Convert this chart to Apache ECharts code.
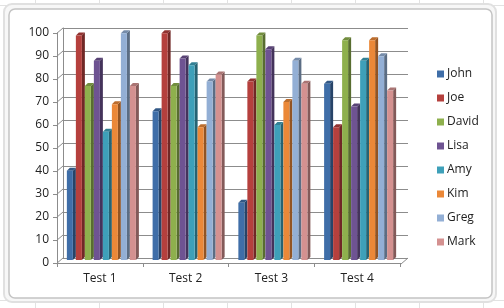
<!DOCTYPE html>
<html><head><meta charset="utf-8">
<script src="https://cdn.jsdelivr.net/npm/echarts@6/dist/echarts.min.js"></script>
<style>html,body{margin:0;padding:0;background:#fff}#c{width:504px;height:308px}</style>
</head><body><div id="c"></div>
<script>
var categories = ['Test 1', 'Test 2', 'Test 3', 'Test 4'];
var names = ['John', 'Joe', 'David', 'Lisa', 'Amy', 'Kim', 'Greg', 'Mark'];
var John  = [39, 65, 25, 77];
var Joe   = [98, 99, 78, 58];
var David = [76, 76, 98, 96];
var Lisa  = [87, 88, 92, 67];
var Amy   = [56, 85, 59, 87];
var Kim   = [68, 58, 69, 96];
var Greg  = [99, 78, 87, 89];
var Mark  = [76, 81, 77, 74];
var yTicks = [0, 10, 20, 30, 40, 50, 60, 70, 80, 90, 100];

var values = [John, Joe, David, Lisa, Amy, Kim, Greg, Mark];
var colors = ['#3f6ea8', '#b5403d', '#8eb04d', '#6e5392', '#3ea0b9', '#eb8838', '#93afd5', '#d49190'];

function shade(hex, f) {
  var n = parseInt(hex.slice(1), 16);
  var r = (n >> 16) & 255, g = (n >> 8) & 255, b = n & 255;
  function c(v) { v = f < 1 ? v * f : v + (255 - v) * (f - 1); return Math.max(0, Math.min(255, Math.round(v))); }
  return 'rgb(' + c(r) + ',' + c(g) + ',' + c(b) + ')';
}

var DX = 3, DY = 3;
function makeRender(idx, color) {
  return function (params, api) {
    var cat = api.value(0), val = api.value(1);
    var top = api.coord([cat, val]);
    var base = api.coord([cat, 0]);
    var band = api.size([1, 0])[0];
    var slot = band * 0.84 / names.length;
    var x0 = top[0] - slot * names.length / 2 + idx * slot;
    var w = slot - DX;
    var yt = top[1], yb = base[1];
    return {
      type: 'group',
      children: [
        { type: 'polygon', shape: { points: [[x0 + w, yt], [x0 + w + DX, yt - DY], [x0 + w + DX, yb - DY], [x0 + w, yb]] },
          style: { fill: shade(color, 0.62) } },
        { type: 'polygon', shape: { points: [[x0, yt], [x0 + DX, yt - DY], [x0 + w + DX, yt - DY], [x0 + w, yt]] },
          style: { fill: shade(color, 0.8) } },
        { type: 'rect', shape: { x: x0, y: yt, width: w, height: yb - yt },
          style: { fill: color } }
      ]
    };
  };
}

var series = [];
names.forEach(function (n, i) {
  series.push({
    name: n, type: 'custom', xAxisIndex: 2, yAxisIndex: 2,
    itemStyle: { color: colors[i] },
    renderItem: makeRender(i, colors[i]),
    encode: { x: 0, y: 1 },
    data: values[i].map(function (v, k) { return [k, v]; }),
    z: 10 + i
  });
});

series.push({
  type: 'custom', xAxisIndex: 1, yAxisIndex: 1, silent: true, z: 3,
  renderItem: function (params, api) {
    var p = api.coord([0, api.value(1)]);
    var x = p[0] - api.size([1, 0])[0] / 2;
    return { type: 'line', shape: { x1: x - 7, y1: p[1] + 6, x2: x, y2: p[1] },
      style: { stroke: '#8c8c8c', lineWidth: 1 } };
  },
  data: yTicks.map(function (v) { return [0, v]; })
});
series.push({
  type: 'custom', xAxisIndex: 1, yAxisIndex: 1, silent: true, z: 3,
  renderItem: function (params, api) {
    var p = api.coord([api.value(0), 0]);
    var x = p[0] + api.size([1, 0])[0] / 2;
    return { type: 'line', shape: { x1: x - 7, y1: p[1] + 6, x2: x, y2: p[1] },
      style: { stroke: '#8c8c8c', lineWidth: 1 } };
  },
  data: [[categories.length - 1, 0]]
});

var bgLines = [];
[35, 99, 163, 227, 291, 355, 419, 483].forEach(function (x) {
  bgLines.push({ type: 'line', z: -20, shape: { x1: x + 0.5, y1: 0, x2: x + 0.5, y2: 308 }, style: { stroke: '#e2e2e2', lineWidth: 1 } });
});
[5, 300].forEach(function (y) {
  bgLines.push({ type: 'line', z: -20, shape: { x1: 0, y1: y + 0.5, x2: 504, y2: y + 0.5 }, style: { stroke: '#e2e2e2', lineWidth: 1 } });
});

var font = 'Open Sans';
var option = {
  backgroundColor: '#ffffff',
  animation: false,
  graphic: bgLines.concat([
    { type: 'rect', z: -10, shape: { x: 4, y: 4, width: 492, height: 298, r: 8 }, style: { fill: '#f7f7f7', stroke: '#e0e0e0', lineWidth: 2 } },
    { type: 'rect', z: -10, shape: { x: 9, y: 9, width: 483, height: 289, r: 6 }, style: { fill: '#fff', stroke: '#c4c4c4', lineWidth: 1.5 } }
  ]),
  legend: {
    orient: 'vertical', left: 432, top: 62,
    itemWidth: 7, itemHeight: 7, itemGap: 10,
    icon: 'rect',
    data: names,
    textStyle: { fontFamily: font, fontSize: 12, color: '#222', lineHeight: 14, padding: [0, 0, 0, -2] }
  },
  grid: [
    { left: 57, top: 33, width: 343, height: 230 },
    { left: 63, top: 28, width: 345, height: 230 },
    { left: 60, top: 31, width: 343, height: 229 }
  ],
  xAxis: [
    { type: 'category', gridIndex: 0, data: categories, boundaryGap: true,
      axisLine: { show: true, lineStyle: { color: '#8c8c8c' } },
      axisTick: { show: true, length: 4, lineStyle: { color: '#8c8c8c' } },
      axisLabel: { fontFamily: font, fontSize: 12, color: '#222', margin: 10 } },
    { type: 'category', gridIndex: 1, data: categories, show: false },
    { type: 'category', gridIndex: 2, data: categories, show: false }
  ],
  yAxis: [
    { type: 'value', gridIndex: 0, min: 0, max: 100, interval: 10,
      axisLine: { show: true, lineStyle: { color: '#8c8c8c' } },
      axisTick: { show: true, length: 4, lineStyle: { color: '#8c8c8c' } },
      splitLine: { show: false },
      axisLabel: { fontFamily: font, fontSize: 12, color: '#222', margin: 8 } },
    { type: 'value', gridIndex: 1, min: 0, max: 100, interval: 10,
      axisLine: { show: true, lineStyle: { color: '#8c8c8c' } },
      axisTick: { show: false }, axisLabel: { show: false },
      splitLine: { show: true, lineStyle: { color: '#8c8c8c', width: 1 } } },
    { type: 'value', gridIndex: 2, min: 0, max: 100, show: false, splitLine: { show: false } }
  ],
  series: series
};
var chart = echarts.init(document.getElementById('c'), null, { renderer: 'canvas' });
chart.setOption(option);
</script></body></html>
